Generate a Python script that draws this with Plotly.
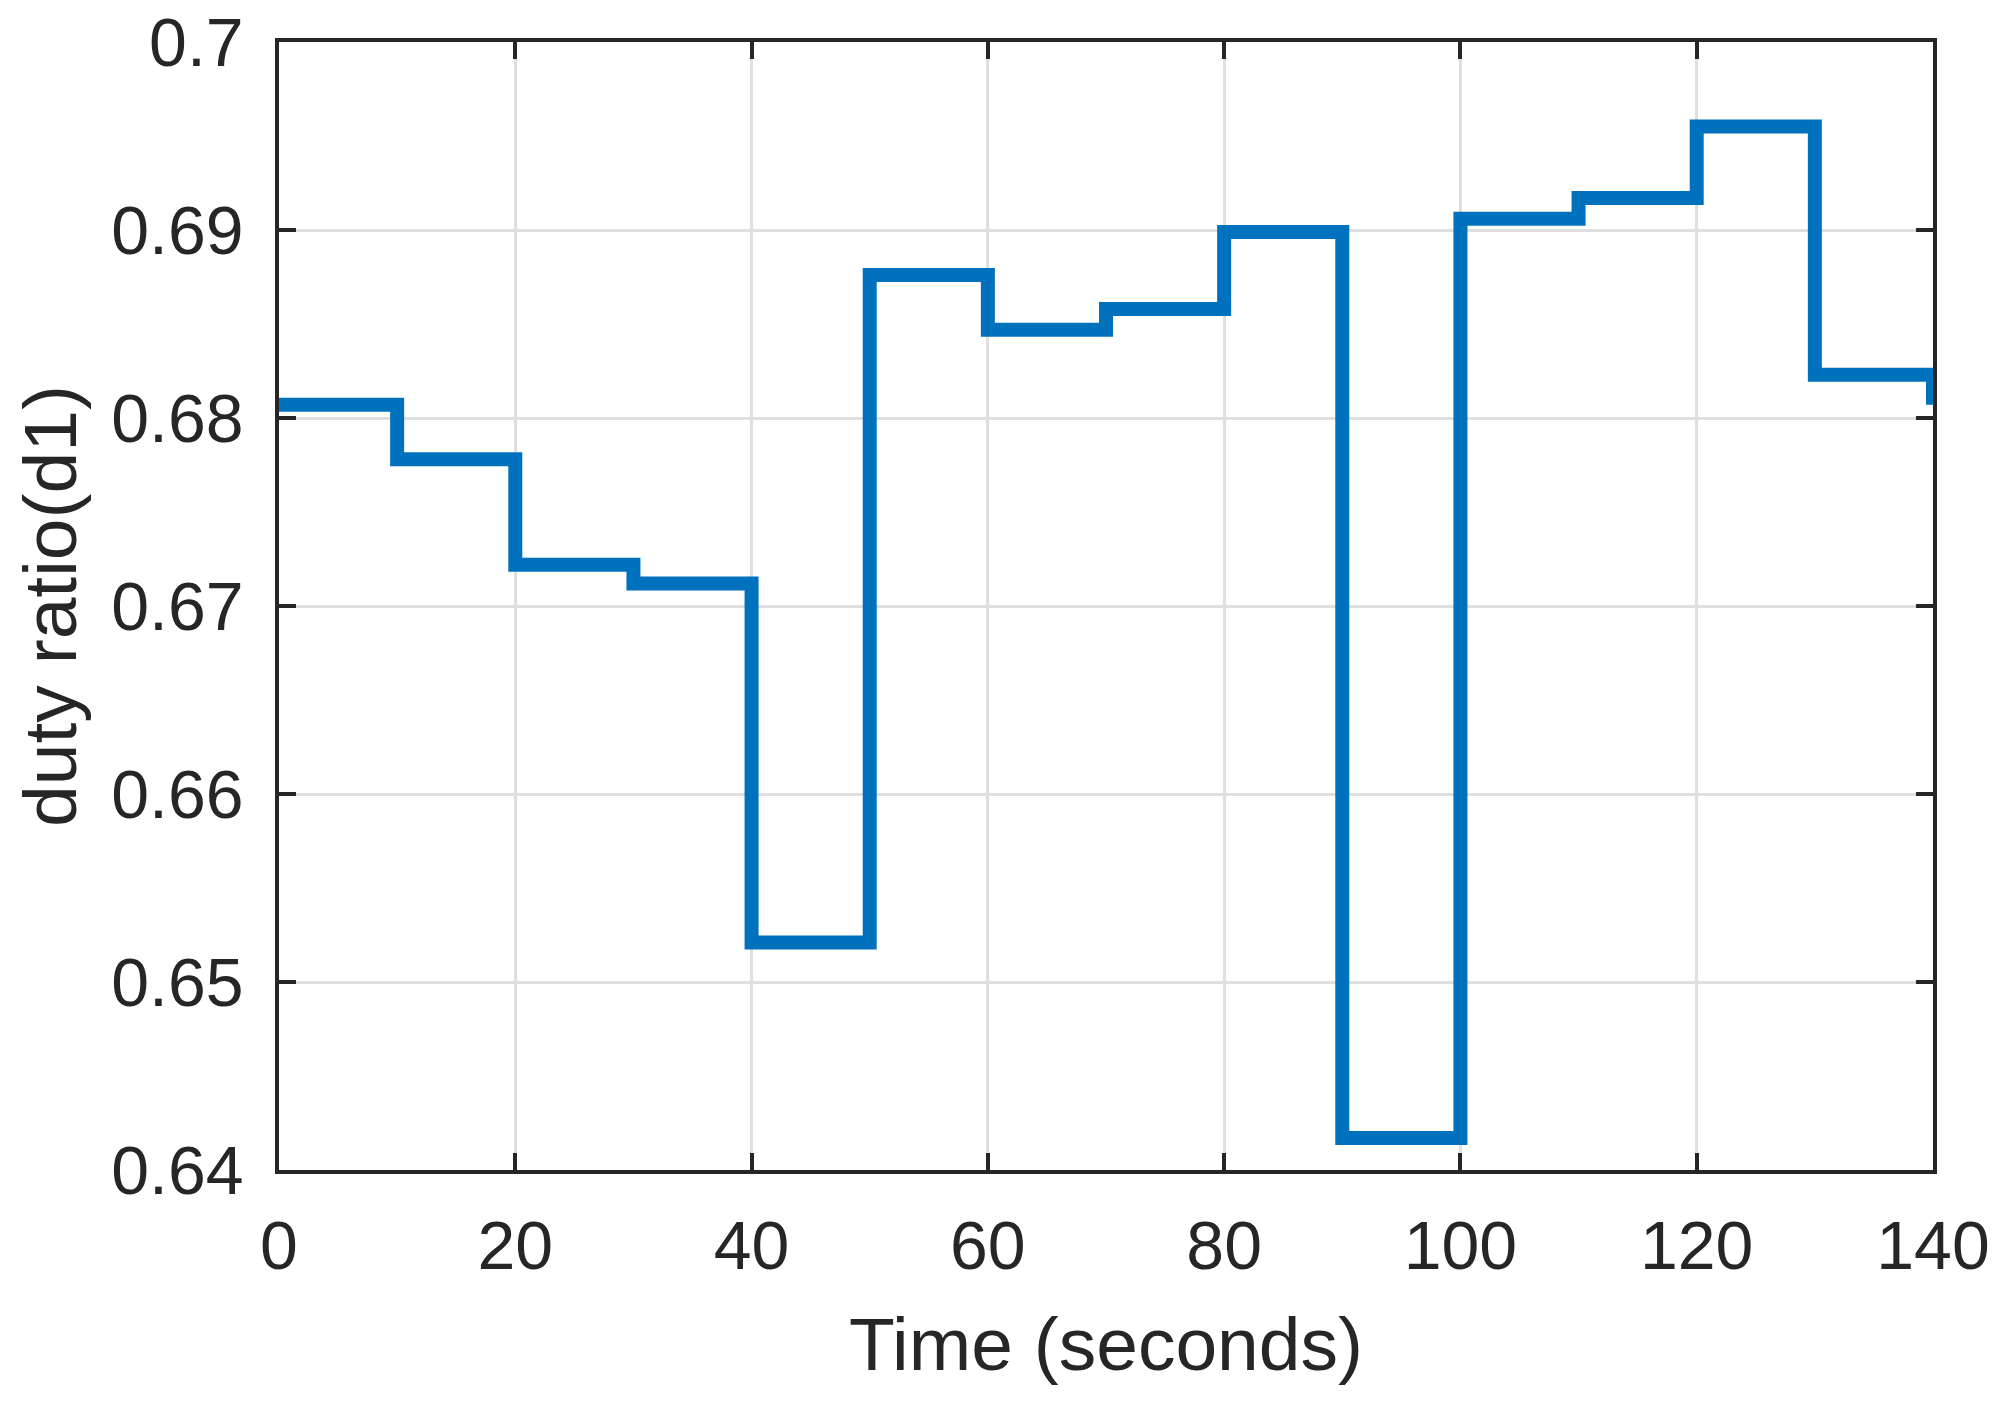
import plotly.graph_objects as go

# step times (s) and duty ratio held from each time
TIME_S = [0, 10, 20, 30, 40, 50, 60, 70, 80, 90, 100, 110, 120, 130, 140]
DUTY_D1 = [0.6807, 0.6778, 0.6722, 0.6712, 0.6521, 0.6876, 0.6847, 0.6858,
           0.6899, 0.6417, 0.6906, 0.6917, 0.6955, 0.6823, 0.6807]

X_TICKS = [0, 20, 40, 60, 80, 100, 120, 140]
Y_TICKS = [0.64, 0.65, 0.66, 0.67, 0.68, 0.69, 0.7]
Y_TICK_TEXT = ["0.64", "0.65", "0.66", "0.67", "0.68", "0.69", "0.7"]

COLORS = {
    "line": "#0072BD",
    "text": "#262626",
    "grid": "#dfdfdf",
}
FONT = "Liberation Sans, Arial, sans-serif"

fig = go.Figure()
fig.add_trace(
    go.Scatter(
        x=TIME_S,
        y=DUTY_D1,
        mode="lines",
        line={"color": COLORS["line"], "width": 14, "shape": "hv"},
        showlegend=False,
    )
)

axis_common = dict(
    showline=True,
    linecolor=COLORS["text"],
    linewidth=3.5,
    mirror="ticks",
    ticks="inside",
    ticklen=17,
    tickwidth=3.5,
    tickcolor=COLORS["text"],
    showgrid=True,
    gridcolor=COLORS["grid"],
    gridwidth=2.5,
    zeroline=False,
    ticklabeloverflow="allow",
    tickfont={"family": FONT, "size": 68, "color": COLORS["text"]},
)

# page body adds an 8px offset, so the margins are shifted to compensate
fig.update_layout(
    width=2004,
    height=1410,
    paper_bgcolor="white",
    plot_bgcolor="white",
    margin={"l": 271, "r": 79, "t": 34, "b": 248, "autoexpand": False},
    xaxis=dict(
        axis_common,
        range=[0, 140],
        tickvals=X_TICKS,
        ticklabelstandoff=14,
        title={"text": "Time (seconds)", "standoff": 36,
               "font": {"family": FONT, "size": 75, "color": COLORS["text"]}},
    ),
    yaxis=dict(
        axis_common,
        range=[0.64, 0.7],
        tickvals=Y_TICKS,
        ticktext=Y_TICK_TEXT,
        ticklabelstandoff=18,
        title={"text": "duty ratio(d1)", "standoff": 20,
               "font": {"family": FONT, "size": 75, "color": COLORS["text"]}},
    ),
)

fig.write_html("out.html")
